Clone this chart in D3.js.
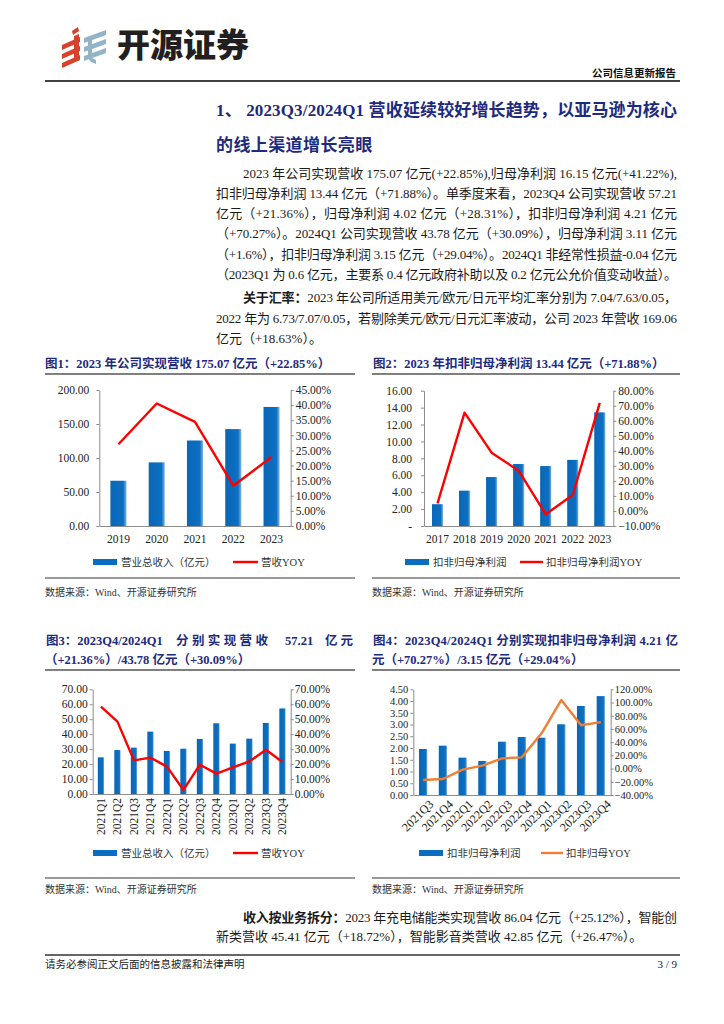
<!DOCTYPE html>
<html><head><meta charset="utf-8">
<script src="https://cdn.jsdelivr.net/npm/d3@7"></script>
<style>body{margin:0;background:#fff} svg{display:block} text{white-space:pre}</style>
</head><body><svg id="c" width="724" height="1024"></svg>
<script>
// ---------- DATA ----------
const years1 = ["2019","2020","2021","2022","2023"];
const revenue1 = [66.55, 93.53, 125.74, 142.51, 175.07];
const revYoy1 = [0.2704, 0.4054, 0.3444, 0.1333, 0.2285];
const ticksL1 = [0, 50, 100, 150, 200];
const ticksR1 = [0, 0.05, 0.10, 0.15, 0.20, 0.25, 0.30, 0.35, 0.40, 0.45];

const years2 = ["2017","2018","2019","2020","2021","2022","2023"];
const profit2 = [2.58, 4.18, 5.79, 7.33, 7.09, 7.82, 13.44];
const profitYoy2 = [0.051, 0.654, 0.388, 0.268, -0.022, 0.106, 0.7188];
const ticksL2 = [0, 2, 4, 6, 8, 10, 12, 14, 16];
const ticksR2 = [-0.10, 0, 0.10, 0.20, 0.30, 0.40, 0.50, 0.60, 0.70, 0.80];

const quarters3 = ["2021Q1","2021Q2","2021Q3","2021Q4","2022Q1","2022Q2","2022Q3","2022Q4","2023Q1","2023Q2","2023Q3","2023Q4"];
const revenue3 = [24.5, 29.4, 31.0, 41.7, 28.8, 30.3, 36.8, 47.3, 33.7, 37.0, 47.5, 57.21];
const revYoy3 = [0.584, 0.484, 0.225, 0.243, 0.183, 0.027, 0.196, 0.136, 0.178, 0.218, 0.296, 0.2136];
const ticksL3 = [0, 10, 20, 30, 40, 50, 60, 70];
const ticksR3 = [0, 0.10, 0.20, 0.30, 0.40, 0.50, 0.60, 0.70];

const quarters4 = ["2021Q3","2021Q4","2022Q1","2022Q2","2022Q3","2022Q4","2023Q1","2023Q2","2023Q3","2023Q4"];
const profit4 = [1.96, 2.10, 1.59, 1.45, 2.27, 2.47, 2.44, 3.01, 3.79, 4.21];
const profitYoy4 = [-0.173, -0.158, -0.016, 0.044, 0.155, 0.170, 0.534, 1.039, 0.655, 0.7027];
const ticksL4 = [0, 0.5, 1, 1.5, 2, 2.5, 3, 3.5, 4, 4.5];
const ticksR4 = [-0.4, -0.2, 0, 0.2, 0.4, 0.6, 0.8, 1.0, 1.2];

// ---------- SETUP ----------
const SERIF = '"Liberation Serif","Noto Sans CJK SC",serif';
const CJK = '"Liberation Serif","Noto Sans CJK SC",sans-serif';
const NAVY = "#1d2a7e";
const svg = d3.select("#c");
svg.append("rect").attr("width",724).attr("height",1024).attr("fill","#fff");
const defs = svg.append("defs");
const gr = defs.append("linearGradient").attr("id","barG").attr("x1","0").attr("x2","1").attr("y1","0").attr("y2","0");
gr.append("stop").attr("offset","0").attr("stop-color","#0a66b6");
gr.append("stop").attr("offset","0.8").attr("stop-color","#0c70c3");
gr.append("stop").attr("offset","1").attr("stop-color","#86b6e2");

// ---------- HEADER ----------
const logo = svg.append("g");
const red = "#d8422c", blue = "#93b4c7";
logo.append("path").attr("fill",red).attr("d","M72,31 L78,27 L79,31 L73,35 Z");
[38,47,56].forEach(y=>{
  logo.append("path").attr("fill",red).attr("d",`M62,${y+7} L80,${y-1} L80,${y+4} L62,${y+12} Z`);
});
logo.append("path").attr("fill",red).attr("d","M74,36 L79,34 L79,60 L74,62 Z");
[30,39,48].forEach(y=>{
  logo.append("path").attr("fill",blue).attr("d",`M84,${y+8} L106,${y} L106,${y+5} L84,${y+13} Z`);
});
logo.append("path").attr("fill",blue).attr("d","M88,40 L92,38 L92,58 L96,60 L96,64 L91,62 L88,58 Z");
svg.append("text").attr("x",117).attr("y",57).attr("font-family",'"Noto Sans CJK SC",sans-serif')
  .attr("font-weight",900).attr("font-size",33).attr("fill","#231f20").text("开源证券");
svg.append("text").attr("x",676).attr("y",77).attr("text-anchor","end").attr("font-family",CJK)
  .attr("font-weight","bold").attr("font-size",10.5).attr("fill","#111").text("公司信息更新报告");
svg.append("line").attr("x1",45).attr("x2",680).attr("y1",81).attr("y2",81).attr("stroke","#000").attr("stroke-width",1.5);

// ---------- TEXT HELPERS ----------
function tline(x, y, parts, o={}) {
  const t = svg.append("text").attr("x",x).attr("y",y).attr("font-family",o.family||SERIF)
    .attr("font-size",o.size||13).attr("fill",o.fill||"#1a1a1a");
  if (o.weight) t.attr("font-weight",o.weight);
  if (o.anchor) t.attr("text-anchor",o.anchor);
  if (o.ls) t.attr("letter-spacing",o.ls);
  parts.forEach(p=>{
    const s = t.append("tspan").text(typeof p==="string"?p:p.t);
    if (typeof p!=="string" && p.b) s.attr("font-weight","bold");
  });
  if (o.w) t.attr("textLength",o.w).attr("lengthAdjust","spacing");
  return t;
}

// ---------- HEADING & BODY ----------
tline(216,116,["1、 2023Q3/2024Q1 营收延续较好增长趋势，以亚马逊为核心"],{size:17,weight:"bold",fill:NAVY,w:461});
tline(216,151,["的线上渠道增长亮眼"],{size:17,weight:"bold",fill:NAVY,ls:0.4});

const body1 = [
  "2023 年公司实现营收 175.07 亿元(+22.85%),归母净利润 16.15 亿元(+41.22%),",
  "扣非归母净利润 13.44 亿元（+71.88%）。单季度来看，2023Q4 公司实现营收 57.21",
  "亿元（+21.36%），归母净利润 4.02 亿元（+28.31%），扣非归母净利润 4.21 亿元",
  "（+70.27%）。2024Q1 公司实现营收 43.78 亿元（+30.09%），归母净利润 3.11 亿元",
  "（+1.6%），扣非归母净利润 3.15 亿元（+29.04%）。2024Q1 非经常性损益-0.04 亿元",
  "（2023Q1 为 0.6 亿元，主要系 0.4 亿元政府补助以及 0.2 亿元公允价值变动收益）。"
];
body1.forEach((s,i)=>{
  const x = i===0?243:216;
  tline(x, 177.5 + i*20.3, [s], {w:677-x});
});
tline(243,302,[{t:"关于汇率：",b:true},"2023 年公司所适用美元/欧元/日元平均汇率分别为 7.04/7.63/0.05，"],{w:434});
tline(216,322.5,["2022 年为 6.73/7.07/0.05，若剔除美元/欧元/日元汇率波动，公司 2023 年营收 169.06"],{w:461});
tline(216,343,["亿元（+18.63%）。"]);

// ---------- CHART ----------
function chart(c) {
  const g = svg.append("g");
  const x = d3.scaleBand().domain(c.cats).range([c.x0,c.x1]).paddingInner(c.pad).paddingOuter(c.pad/2);
  const yL = d3.scaleLinear().domain([c.lTicks[0], c.lTicks[c.lTicks.length-1]]).range([c.yB,c.yT]);
  const yR = d3.scaleLinear().domain([c.rTicks[0], c.rTicks[c.rTicks.length-1]]).range([c.yB,c.yT]);
  g.append("g").selectAll("rect").data(c.bars).join("rect")
    .attr("x",(d,i)=>x(c.cats[i])).attr("width",x.bandwidth())
    .attr("y",d=>yL(d)).attr("height",d=>yL(0)-yL(d)).attr("fill","url(#barG)");
  const ax = (fs)=>(sel)=>{ sel.select(".domain").attr("stroke","#8c8c8c");
    sel.selectAll(".tick line").attr("stroke","#8c8c8c");
    sel.selectAll(".tick text").attr("fill","#222").attr("font-family",SERIF).attr("font-size",fs); };
  const yfs = c.yfs||11.5, xfs = c.xfs||11.5;
  g.append("g").attr("transform",`translate(${c.x0},0)`)
    .call(d3.axisLeft(yL).tickValues(c.lTicks).tickFormat(c.lFmt).tickSize(3).tickPadding(c.lPad).tickSizeOuter(0)).call(ax(yfs));
  g.append("g").attr("transform",`translate(${c.x1},0)`)
    .call(d3.axisRight(yR).tickValues(c.rTicks).tickFormat(d3.format(".2%")).tickSize(3).tickPadding(c.rPad).tickSizeOuter(0)).call(ax(yfs));
  const xa = g.append("g").attr("transform",`translate(0,${c.yB})`)
    .call(d3.axisBottom(x).tickSize(0).tickPadding(c.xPad||8).tickSizeOuter(0)).call(ax(xfs));
  if (c.rot===90) {
    xa.selectAll(".tick text").attr("transform","rotate(-90)").attr("x",-4).attr("y",0)
      .attr("dy","0.35em").attr("text-anchor","end");
  } else if (c.rot===45) {
    xa.selectAll(".tick text").attr("transform","translate(8,7) rotate(-45)").attr("x",0).attr("y",0)
      .attr("dy","0.35em").attr("text-anchor","end");
  }
  const line = d3.line().x((d,i)=>x(c.cats[i])+x.bandwidth()/2).y(d=>yR(d));
  g.append("path").datum(c.line).attr("d",line).attr("fill","none").attr("stroke",c.lc)
    .attr("stroke-width",2.4).attr("stroke-linejoin","round");
  const L = c.leg;
  g.append("rect").attr("x",L.rx).attr("y",L.y-3).attr("width",24).attr("height",6).attr("fill","#0b6dc0");
  tline(L.rx+28, L.y+3.8, [c.barName], {family:CJK,size:10.5,fill:"#333"});
  g.append("line").attr("x1",L.lx).attr("x2",L.lx+(L.lw||25)).attr("y1",L.y).attr("y2",L.y).attr("stroke",c.lc).attr("stroke-width",2.4);
  tline(L.lx+(L.lw||25)+3, L.y+3.8, [c.lineName], {family:CJK,size:10.5,fill:"#333"});
}

function frame(x1, x2, yLine, ySrcLine, ySrc) {
  svg.append("line").attr("x1",x1).attr("x2",x2).attr("y1",yLine).attr("y2",yLine).attr("stroke","#555").attr("stroke-width",1.5);
  svg.append("line").attr("x1",x1).attr("x2",x2).attr("y1",ySrcLine).attr("y2",ySrcLine).attr("stroke","#777").attr("stroke-width",1.5);
  tline(x1, ySrc, ["数据来源：Wind、开源证券研究所"], {family:CJK,size:10,fill:"#333"});
}

// Chart 1
tline(45,368,["图1：2023 年公司实现营收 175.07 亿元（+22.85%）"],{size:12.5,weight:"bold",fill:NAVY});
frame(45,355,374,578,596);
chart({cats:years1,bars:revenue1,line:revYoy1,x0:99.3,x1:290.7,yT:390,yB:526,pad:0.58,
  lTicks:ticksL1,rTicks:ticksR1,lFmt:d3.format(".2f"),lPad:7,rPad:2,xPad:9,lc:"#ff0000",
  barName:"营业总收入（亿元）",lineName:"营收YOY",leg:{rx:93,lx:233,y:562}});

// Chart 2
tline(373,368,["图2：2023 年扣非归母净利润 13.44 亿元（+71.88%）"],{size:12.5,weight:"bold",fill:NAVY});
frame(372,680,374,578,596);
chart({cats:years2,bars:profit2,line:profitYoy2,x0:424,x1:613.3,yT:390.7,yB:526,pad:0.59,
  lTicks:ticksL2,rTicks:ticksR2,lFmt:d=>d===0?"-":d3.format(".2f")(d),lPad:9,rPad:2,xPad:9,lc:"#ff0000",
  barName:"扣非归母净利润",lineName:"扣非归母净利润YOY",leg:{rx:405,lx:520,y:562,lw:23}});

// Chart 3
tline(46,645,["图3：2023Q4/2024Q1"],{size:12.5,weight:"bold",fill:NAVY});
tline(176,645,["分别实现营收"],{size:12.5,weight:"bold",fill:NAVY,w:92});
tline(285,645,["57.21"],{size:12.5,weight:"bold",fill:NAVY});
tline(325,645,["亿元"],{size:12.5,weight:"bold",fill:NAVY,w:28});
tline(45,664,["（+21.36%）/43.78 亿元（+30.09%）"],{size:12.5,weight:"bold",fill:NAVY});
frame(45,355,670,878,893);
chart({cats:quarters3,bars:revenue3,line:revYoy3,x0:92.7,x1:290.7,yT:689.3,yB:794,pad:0.62,
  lTicks:ticksL3,rTicks:ticksR3,lFmt:d3.format(".2f"),lPad:2,rPad:1,rot:90,yfs:11.5,xfs:11.5,lc:"#ff0000",
  barName:"营业总收入（亿元）",lineName:"营收YOY",leg:{rx:93,lx:233,y:853}});

// Chart 4
tline(373,645,["图4：2023Q4/2024Q1 分别实现扣非归母净利润 4.21 亿"],{size:12.5,weight:"bold",fill:NAVY,w:305});
tline(372,664,["元（+70.27%）/3.15 亿元（+29.04%）"],{size:12.5,weight:"bold",fill:NAVY});
frame(372,680,670,878,893);
chart({cats:quarters4,bars:profit4,line:profitYoy4,x0:413.3,x1:610.7,yT:689.3,yB:795,pad:0.58,
  lTicks:ticksL4,rTicks:ticksR4,lFmt:d3.format(".2f"),lPad:2,rPad:1,rot:45,yfs:10.5,xfs:12,lc:"#f07f33",
  barName:"扣非归母净利润",lineName:"扣非归母YOY",leg:{rx:419,lx:541,y:853,lw:22}});

// ---------- BOTTOM TEXT ----------
tline(243,922,[{t:"收入按业务拆分：",b:true},"2023 年充电储能类实现营收 86.04 亿元（+25.12%），智能创"],{w:434});
tline(216,941,["新类营收 45.41 亿元（+18.72%），智能影音类营收 42.85 亿元（+26.47%）。"]);
svg.append("line").attr("x1",45).attr("x2",680).attr("y1",955).attr("y2",955).attr("stroke","#666").attr("stroke-width",2);
tline(45,968,["请务必参阅正文后面的信息披露和法律声明"],{family:CJK,size:10.5,fill:"#222"});
tline(677,968,["3 / 9"],{size:11,anchor:"end",fill:"#222"});
</script></body></html>
